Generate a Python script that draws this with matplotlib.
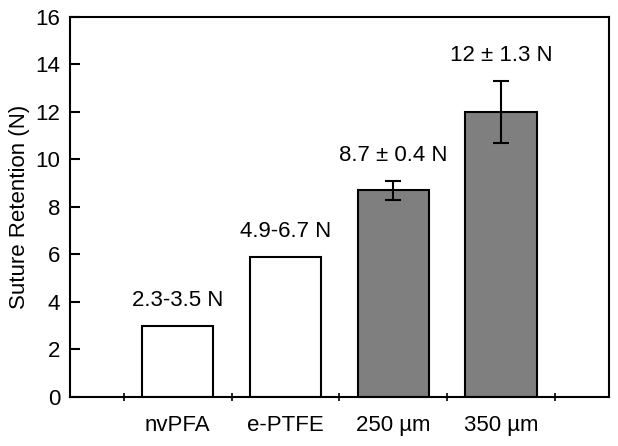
import numpy as np
import matplotlib
matplotlib.use("Agg")
import matplotlib.pyplot as plt

plt.rcParams['font.family'] = ['Liberation Sans', 'DejaVu Sans']

# data
categories = ["nvPFA", "e-PTFE", "250 µm", "350 µm"]
values = [3.0, 5.9, 8.7, 12.0]
errors = [0, 0, 0.4, 1.3]
labels = ["2.3-3.5 N", "4.9-6.7 N", "8.7 ± 0.4 N", "12 ± 1.3 N"]
colors = ["white", "white", "#7f7f7f", "#7f7f7f"]

fs = 16

fig = plt.figure(figsize=(6.18, 4.46), dpi=100)
ax = fig.add_axes([0.113, 0.110, 0.872, 0.852])

x = np.arange(1, len(categories) + 1)
ax.bar(x, values, width=0.66, color=colors, edgecolor="black", linewidth=1.5, zorder=2)

# error bars only for the measured samples
for xi, v, e in zip(x, values, errors):
    if e > 0:
        ax.errorbar(xi, v, yerr=e, fmt="none", ecolor="black", elinewidth=1.5,
                    capsize=6, capthick=1.5, zorder=3)

for xi, v, e, lab in zip(x, values, errors, labels):
    ax.text(xi, v + e + 0.85, lab, ha="center", va="baseline", fontsize=fs)

ax.set_xlim(0, 5)
ax.set_ylim(0, 16)
ax.set_yticks(np.arange(0, 17, 2))
ax.tick_params(axis="y", direction="in", length=7, width=1.5, labelsize=fs, pad=7,
               right=False)

# tick marks sit between bars, labels under bars
ax.set_xticks(np.arange(0.5, 5, 1))
ax.set_xticklabels([])
ax.tick_params(axis="x", which="major", direction="inout", length=6, width=1.2, top=False)
ax.set_xticks(x, minor=True)
ax.set_xticklabels(categories, minor=True)
ax.tick_params(axis="x", which="minor", length=0, labelsize=fs, pad=13)

for s in ax.spines.values():
    s.set_linewidth(1.5)

ax.set_ylabel("Suture Retention (N)", fontsize=fs, labelpad=4)

fig.savefig("out.png", dpi=100)
